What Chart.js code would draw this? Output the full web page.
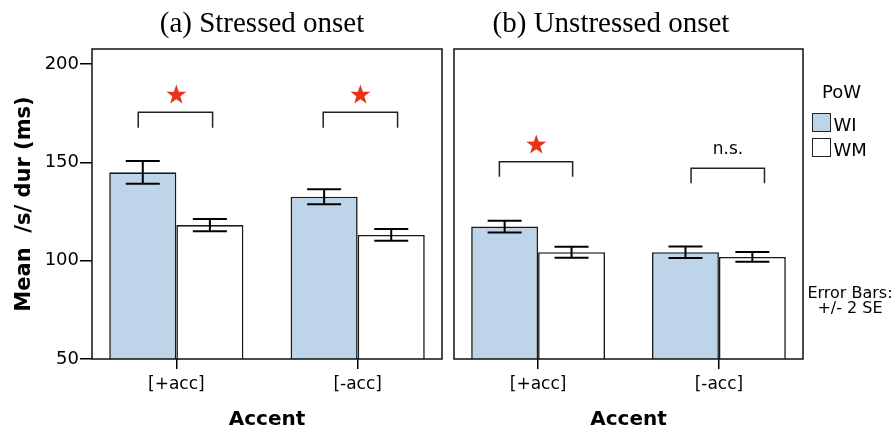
<!DOCTYPE html>
<html><head><meta charset="utf-8">
<script src="https://cdn.jsdelivr.net/npm/chart.js@4"></script>
<style>
html,body{margin:0;padding:0;background:#fff;width:896px;height:433px;overflow:hidden;position:relative;font-family:'DejaVu Sans',sans-serif;color:#000}
.abs{position:absolute;white-space:nowrap}
.ttl{font-family:'Liberation Serif',serif;font-size:29px;line-height:29px;transform:translateX(-50%)}
.leg{font-size:18px;line-height:18px}
.box{position:absolute;width:19px;height:19px;box-sizing:border-box;border:1.5px solid #222}
.note{font-size:16px;line-height:16px;transform:translateX(-50%)}
</style></head><body>
<div style="position:absolute;left:0;top:0;width:446px;height:433px"><canvas id="cv1" width="446" height="433"></canvas></div>
<div style="position:absolute;left:446px;top:0;width:450px;height:433px"><canvas id="cv2" width="450" height="433"></canvas></div>
<div class="abs ttl" style="left:262px;top:7.7px">(a) Stressed onset</div>
<div class="abs ttl" style="left:611px;top:7.7px">(b) Unstressed onset</div>
<div class="abs leg" style="left:822px;top:82.8px">PoW</div>
<div class="box" style="left:811.5px;top:112.5px;background:rgb(190,212,232)"></div>
<div class="abs leg" style="left:833.5px;top:116.3px">WI</div>
<div class="box" style="left:811.5px;top:137.5px;background:#fff"></div>
<div class="abs leg" style="left:833.5px;top:140.8px">WM</div>
<div class="abs note" style="left:850px;top:284.8px">Error Bars:</div>
<div class="abs note" style="left:850px;top:299.8px">+/- 2 SE</div>
<script>
// ---- data ----
const categories = ['[+acc]', '[-acc]'];
const groups = ['WI', 'WM'];
const yTicks = [50, 100, 150, 200];

const stressedWI = [144.9, 132.5];
const stressedWM = [118.1, 113.1];
const stressedWIErr = [5.8, 3.8];
const stressedWMErr = [3.1, 3.0];

const unstressedWI = [117.3, 104.3];
const unstressedWM = [104.3, 101.9];
const unstressedWIErr = [3.0, 2.95];
const unstressedWMErr = [2.8, 2.5];

// significance annotations (x in category units, y in ms)
const stressedBrX = [[0.79, 1.2], [1.81, 2.22]];
const stressedBrTop = [175.4, 175.4];
const stressedBrLeg = [167.6, 167.6];
const stressedMark = ['star', 'star'];
const stressedMarkX = [1.0, 2.015];
const stressedMarkY = [184.2, 184.2];

const unstressedBrX = [[0.786, 1.191], [1.846, 2.252]];
const unstressedBrTop = [150.3, 147.0];
const unstressedBrLeg = [142.7, 139.3];
const unstressedMark = ['star', 'n.s.'];
const unstressedMarkX = [0.99, 2.05];
const unstressedMarkY = [158.8, 156.3];

// ---- style ----
const BLUE = 'rgb(190,212,232)';
const FONT = "'DejaVu Sans', sans-serif";

const errorBarPlugin = {
  id: 'errbars',
  afterDatasetsDraw(chart) {
    const ctx = chart.ctx, ys = chart.scales.y;
    chart.data.datasets.forEach((ds, di) => {
      const meta = chart.getDatasetMeta(di);
      meta.data.forEach((el, i) => {
        const v = ds.data[i].y, e = ds.errors[i];
        const x = el.x;
        const yt = ys.getPixelForValue(v + e), yb = ys.getPixelForValue(v - e);
        ctx.save();
        ctx.strokeStyle = '#000'; ctx.lineWidth = 2;
        ctx.beginPath();
        ctx.moveTo(x, yt); ctx.lineTo(x, yb);
        ctx.moveTo(x - 17, yt); ctx.lineTo(x + 17, yt);
        ctx.moveTo(x - 17, yb); ctx.lineTo(x + 17, yb);
        ctx.stroke();
        ctx.restore();
      });
    });
  }
};

function drawStar(ctx, cx, cy, R, r) {
  ctx.beginPath();
  for (let k = 0; k < 10; k++) {
    const rad = k % 2 === 0 ? R : r;
    const a = -Math.PI / 2 + k * Math.PI / 5;
    const px = cx + rad * Math.cos(a), py = cy + rad * Math.sin(a);
    if (k === 0) ctx.moveTo(px, py); else ctx.lineTo(px, py);
  }
  ctx.closePath();
  ctx.fill();
}

const sigPlugin = {
  id: 'sig',
  afterDraw(chart, args, o) {
    const ctx = chart.ctx, xs = chart.scales.x, ys = chart.scales.y;
    const a = chart.chartArea;
    ctx.save();
    ctx.strokeStyle = '#111'; ctx.lineWidth = 1.5;
    ctx.strokeRect(a.left, a.top, a.right - a.left, a.bottom - a.top);
    ctx.restore();
    o.brX.forEach((br, i) => {
      const x0 = xs.getPixelForValue(br[0]), x1 = xs.getPixelForValue(br[1]);
      const yt = ys.getPixelForValue(o.top[i]), yl = ys.getPixelForValue(o.leg[i]);
      ctx.save();
      ctx.strokeStyle = '#222'; ctx.lineWidth = 1.5;
      ctx.beginPath();
      ctx.moveTo(x0, yl); ctx.lineTo(x0, yt); ctx.lineTo(x1, yt); ctx.lineTo(x1, yl);
      ctx.stroke();
      const mx = xs.getPixelForValue(o.markX[i]), my = ys.getPixelForValue(o.markY[i]);
      if (o.mark[i] === 'star') {
        ctx.fillStyle = '#e8341c';
        drawStar(ctx, mx, my, 10.5, 4.2);
      } else {
        ctx.fillStyle = '#000';
        ctx.font = "17px " + FONT;
        ctx.textAlign = 'center'; ctx.textBaseline = 'middle';
        ctx.fillText(o.mark[i], mx, my);
      }
      ctx.restore();
    });
  }
};

function makeChart(id, wi, wm, wiErr, wmErr, sig, showY, padding) {
  const pts = vals => categories.map((c, i) => ({ x: i + 1, y: vals[i] }));
  return new Chart(document.getElementById(id), {
    type: 'bar',
    data: {
      datasets: [
        { label: groups[0], data: pts(wi), errors: wiErr, backgroundColor: BLUE, borderColor: '#1a1a1a', borderWidth: 1.6, borderSkipped: 'bottom' },
        { label: groups[1], data: pts(wm), errors: wmErr, backgroundColor: '#fff', borderColor: '#1a1a1a', borderWidth: 1.6, borderSkipped: 'bottom' }
      ]
    },
    options: {
      responsive: false,
      devicePixelRatio: 1,
      animation: false,
      categoryPercentage: 0.74,
      barPercentage: 1,
      layout: { padding: padding },
      plugins: { legend: { display: false }, tooltip: { enabled: false }, title: { display: false }, sig: sig },
      scales: {
        x: {
          type: 'linear', min: 0.535, max: 2.465, offset: false,
          afterBuildTicks: s => { s.ticks = categories.map((c, i) => ({ value: i + 1 })); },
          ticks: { callback: v => categories[Math.round(v) - 1] ?? '', font: { family: FONT, size: 17 }, color: '#000', padding: 5, maxRotation: 0, autoSkip: false },
          grid: { drawOnChartArea: false, drawTicks: true, tickLength: 10, color: '#000', lineWidth: 1.5, offset: false },
          border: { display: false },
          title: { display: true, text: 'Accent', font: { family: FONT, size: 20, weight: 'bold' }, color: '#000', padding: { top: 0, bottom: 1 } },
          afterFit: s => { s.height = 74; }
        },
        y: {
          display: showY,
          min: 50, max: 207.6,
          afterBuildTicks: s => { s.ticks = yTicks.map(v => ({ value: v })); },
          ticks: { font: { family: FONT, size: 18 }, color: '#000', padding: 1 },
          grid: { drawOnChartArea: false, drawTicks: true, tickLength: 12, color: '#000', lineWidth: 1.5 },
          border: { display: false },
          title: { display: true, text: 'Mean  /s/ dur (ms)', font: { family: FONT, size: 21, weight: 'bold' }, color: '#000', padding: { top: 12, bottom: 0 } },
          afterFit: s => { s.width = showY ? 92 : 0; }
        }
      }
    },
    plugins: [errorBarPlugin, sigPlugin]
  });
}

makeChart('cv1', stressedWI, stressedWM, stressedWIErr, stressedWMErr,
  { brX: stressedBrX, top: stressedBrTop, leg: stressedBrLeg, mark: stressedMark, markX: stressedMarkX, markY: stressedMarkY },
  true, { left: 0, right: 4, top: 49, bottom: 0 });

makeChart('cv2', unstressedWI, unstressedWM, unstressedWIErr, unstressedWMErr,
  { brX: unstressedBrX, top: unstressedBrTop, leg: unstressedBrLeg, mark: unstressedMark, markX: unstressedMarkX, markY: unstressedMarkY },
  false, { left: 8, right: 93, top: 49, bottom: 0 });
</script>
</body></html>
